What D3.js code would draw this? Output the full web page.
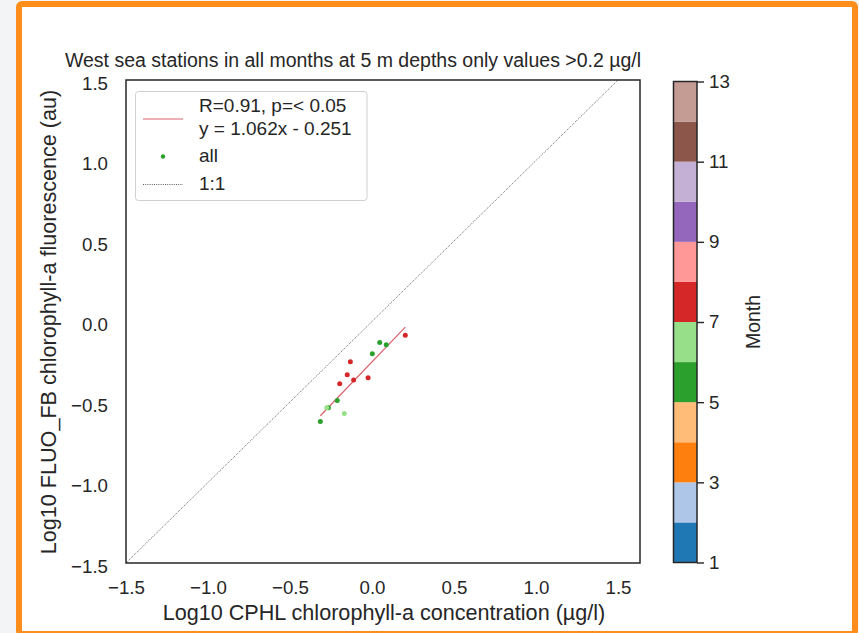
<!DOCTYPE html>
<html>
<head>
<meta charset="utf-8">
<script src="https://cdn.jsdelivr.net/npm/d3@7"></script>
<style>
  html, body { margin: 0; padding: 0; background: #f3f4f6; overflow: hidden; }
  #frame {
    position: absolute; left: 16px; top: 1px; width: 842px; height: 636px;
    box-sizing: border-box; border: 6px solid #fd8e1c; border-radius: 6px; background: #fff;
  }
  svg { position: absolute; left: 0; top: 0; }
  text { font-family: "Liberation Sans", Arial, sans-serif; fill: #262626; }
</style>
</head>
<body>
<div id="frame"></div>
<div id="chart"></div>
<script>
// 数据点：CPHL (x) 与 FLUO_FB (y) 的 log10 值，以及月份
const cphl = [0.203, 0.047, 0.087, 0.002, -0.132, -0.151, -0.112, -0.024, -0.197, -0.212, -0.266, -0.276, -0.169, -0.315];
const fluo = [-0.085, -0.130, -0.145, -0.201, -0.250, -0.331, -0.364, -0.350, -0.387, -0.491, -0.536, -0.536, -0.571, -0.621];
const months = [7, 5, 5, 5, 7, 7, 7, 7, 7, 5, 5, 6, 6, 5];

// 回归结果
const slope = 1.062, intercept = -0.251;

// 刻度
const xTicks = [-1.5, -1.0, -0.5, 0.0, 0.5, 1.0, 1.5];
const yTicks = [-1.5, -1.0, -0.5, 0.0, 0.5, 1.0, 1.5];
const monthTicks = [1, 3, 5, 7, 9, 11, 13];

// tab20 颜色 (12 段)
const tab20 = ["#1f77b4", "#aec7e8", "#ff7f0e", "#ffbb78", "#2ca02c", "#98df8a",
               "#d62728", "#ff9896", "#9467bd", "#c5b0d5", "#8c564b", "#c49c94"];

const W = 859, H = 633;
const fmt = d3.format(".1f");
const minus = s => s.replace("-", "\u2212");
const regColor = "#d8606a";

const svg = d3.select("#chart").append("svg")
    .attr("width", W).attr("height", H);

// 坐标比例尺
const x = d3.scaleLinear().domain([-1.5, 1.634]).range([126, 640]);
const y = d3.scaleLinear().domain([-1.5, 1.5]).range([563, 80]);

// 1:1 线
svg.append("line")
    .attr("x1", x(-1.5)).attr("y1", y(-1.5))
    .attr("x2", x(1.5)).attr("y2", y(1.5))
    .attr("stroke", "#333").attr("stroke-width", 0.8)
    .attr("stroke-dasharray", "1,1.2");

// 回归线
const xr = d3.extent(cphl);
svg.append("line")
    .attr("x1", x(xr[0])).attr("y1", y(slope * xr[0] + intercept))
    .attr("x2", x(xr[1])).attr("y2", y(slope * xr[1] + intercept))
    .attr("stroke", regColor).attr("stroke-width", 1.2);

// 散点
svg.append("g")
    .selectAll("circle")
    .data(cphl.map((v, i) => ({x: v, y: fluo[i], m: months[i]})))
    .join("circle")
    .attr("cx", d => x(d.x))
    .attr("cy", d => y(d.y))
    .attr("r", 2.5)
    .attr("fill", d => tab20[d.m - 1]);

// 坐标轴（无刻度线）
const xAxis = svg.append("g")
    .attr("transform", `translate(0,563)`)
    .call(d3.axisBottom(x).tickValues(xTicks).tickFormat(d => minus(fmt(d))).tickSize(0).tickPadding(17.5));
const yAxis = svg.append("g")
    .attr("transform", `translate(126,0)`)
    .call(d3.axisLeft(y).tickValues(yTicks).tickFormat(d => minus(fmt(d))).tickSize(0).tickPadding(18));
[xAxis, yAxis].forEach(g => {
    g.select(".domain").remove();
    g.selectAll(".tick text").attr("font-size", 18.7).attr("fill", "#262626")
        .style("font-family", "'Liberation Sans', Arial, sans-serif");
});
yAxis.selectAll(".tick text").attr("dy", "0.5em");

// 边框
svg.append("rect")
    .attr("x", 126).attr("y", 80).attr("width", 514).attr("height", 483)
    .attr("fill", "none").attr("stroke", "#262626").attr("stroke-width", 1.5);

// 标题和轴标签
svg.append("text")
    .attr("x", 353).attr("y", 67).attr("text-anchor", "middle")
    .attr("font-size", 19.5)
    .text("West sea stations in all months at 5 m depths only values >0.2 µg/l");
svg.append("text")
    .attr("x", 384).attr("y", 620).attr("text-anchor", "middle")
    .attr("font-size", 21.6)
    .text("Log10 CPHL chlorophyll-a concentration (µg/l)");
svg.append("text")
    .attr("transform", "translate(56,322) rotate(-90)").attr("text-anchor", "middle")
    .attr("font-size", 21.6)
    .text("Log10 FLUO_FB chlorophyll-a fluorescence (au)");

// 图例
const lg = svg.append("g");
lg.append("rect")
    .attr("x", 135.5).attr("y", 91.5).attr("width", 231.5).attr("height", 109).attr("rx", 3)
    .attr("fill", "#fff").attr("fill-opacity", 0.8).attr("stroke", "#d0d0d0");
lg.append("line").attr("x1", 143).attr("x2", 183).attr("y1", 119).attr("y2", 119)
    .attr("stroke", regColor).attr("stroke-width", 1.2);
lg.append("text").attr("x", 199).attr("y", 112).attr("font-size", 19).text("R=0.91, p=< 0.05");
lg.append("text").attr("x", 199).attr("y", 135).attr("font-size", 19).text("y = 1.062x - 0.251");
lg.append("circle").attr("cx", 163).attr("cy", 156.5).attr("r", 2.2).attr("fill", tab20[4]);
lg.append("text").attr("x", 199).attr("y", 162).attr("font-size", 19).text("all");
lg.append("line").attr("x1", 143).attr("x2", 183).attr("y1", 184.5).attr("y2", 184.5)
    .attr("stroke", "#333").attr("stroke-width", 0.8).attr("stroke-dasharray", "1,1.2");
lg.append("text").attr("x", 199).attr("y", 190).attr("font-size", 19).text("1:1");

// 颜色条
const c = d3.scaleLinear().domain([1, 13]).range([562.5, 81.5]);
const cb = svg.append("g");
cb.selectAll("rect")
    .data(d3.range(12))
    .join("rect")
    .attr("x", 673.5).attr("width", 23.5)
    .attr("y", i => c(i + 2)).attr("height", i => c(i + 1) - c(i + 2))
    .attr("fill", i => tab20[i]);
cb.append("rect").attr("x", 673.5).attr("y", 81.5).attr("width", 23.5).attr("height", 481)
    .attr("fill", "none").attr("stroke", "#262626").attr("stroke-width", 1.5);
const cAxis = cb.append("g")
    .attr("transform", "translate(697,0)")
    .call(d3.axisRight(c).tickValues(monthTicks).tickFormat(d3.format("d")).tickSize(7).tickPadding(5));
cAxis.select(".domain").remove();
cAxis.selectAll(".tick line").attr("stroke", "#262626").attr("stroke-width", 1.4);
cAxis.selectAll(".tick text").attr("font-size", 18.7).attr("fill", "#262626")
    .style("font-family", "'Liberation Sans', Arial, sans-serif");
cb.append("text")
    .attr("transform", "translate(760,322) rotate(-90)").attr("text-anchor", "middle")
    .attr("font-size", 19.5).text("Month");
</script>
</body>
</html>
